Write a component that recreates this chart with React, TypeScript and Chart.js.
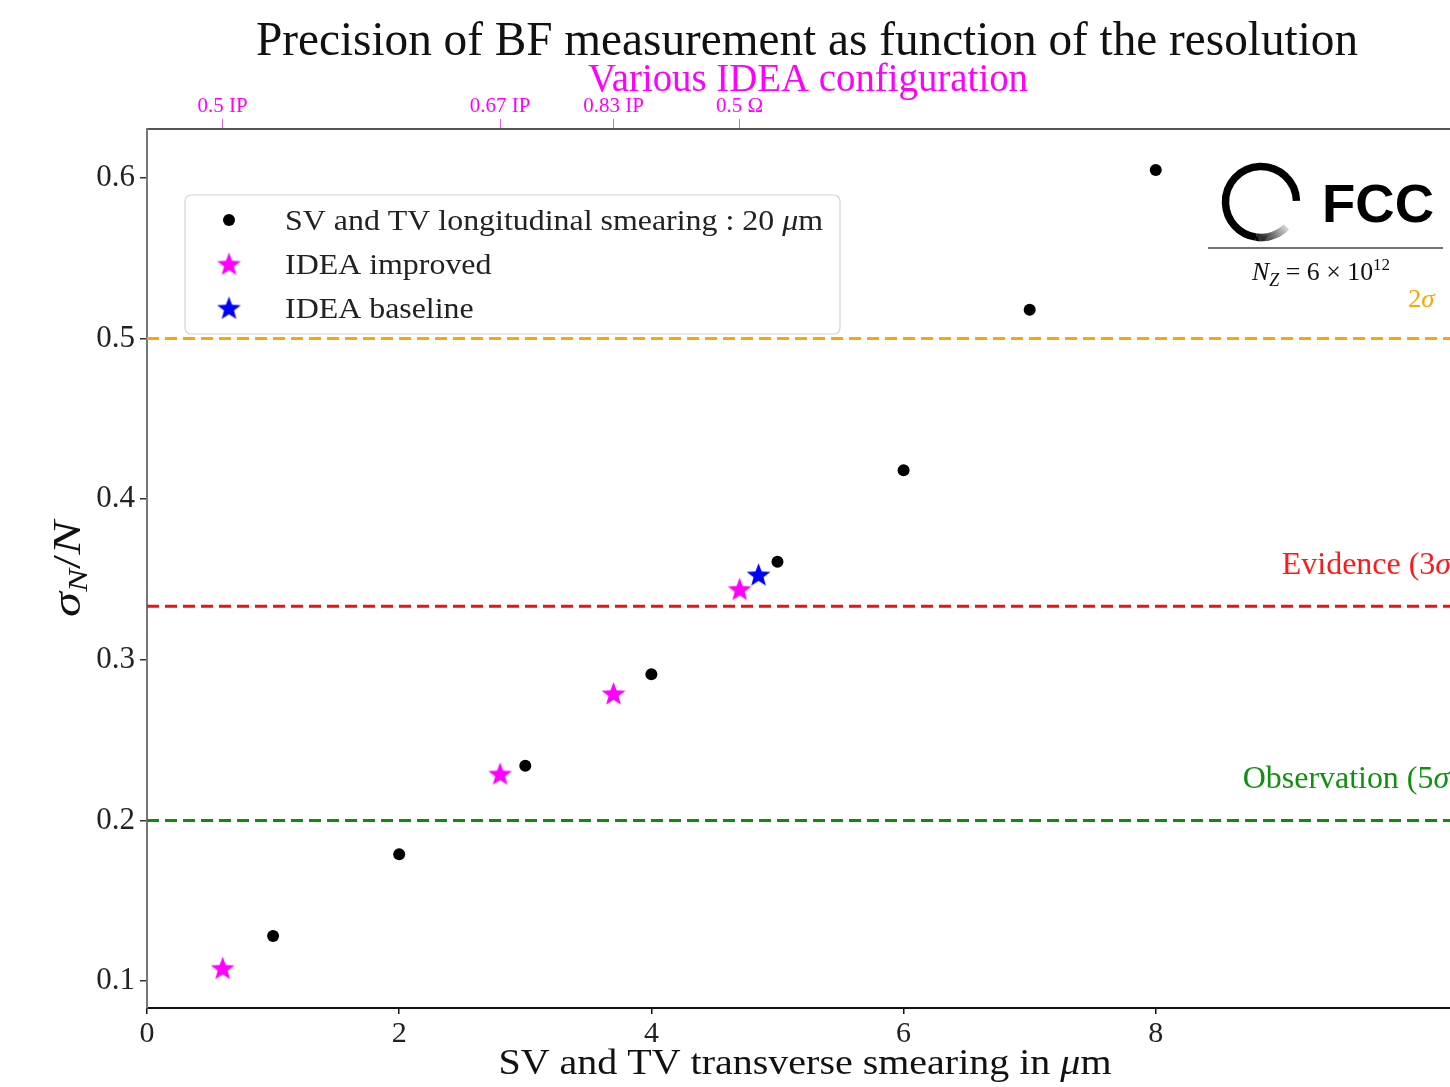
import React, { useEffect, useRef } from "react";
import { Chart, registerables } from "chart.js";

Chart.register(...registerables);

// ---------------- data ----------------
const xTickValues = [0, 2, 4, 6, 8];
const yTickValues = [0.1, 0.2, 0.3, 0.4, 0.5, 0.6];
const topTickValues = [0.6, 2.8, 3.7, 4.7];
const topTickLabels = ["0.5 IP", "0.67 IP", "0.83 IP", "0.5 Ω"];

const longSmearX = [1, 2, 3, 4, 5, 6, 7, 8];
const longSmearY = [0.128, 0.179, 0.234, 0.291, 0.361, 0.418, 0.518, 0.605];

const improvedX = [0.6, 2.8, 3.7, 4.7];
const improvedY = [0.108, 0.229, 0.279, 0.344];

const baselineX = [4.85];
const baselineY = [0.353];

const thresholdY = [0.5, 1 / 3, 0.2];
const thresholdLabels = ["2σ", "Evidence (3σ)", "Observation (5σ)"];
const thresholdLabelX = [10.0, 9.0, 8.69];

const seriesLabels = [
  "SV and TV longitudinal smearing : 20 μm",
  "IDEA improved",
  "IDEA baseline",
];

const titleText = "Precision of BF measurement as function of the resolution";
const subtitleText = "Various IDEA configuration";
const xAxisText = "SV and TV transverse smearing in μm";

const X_MIN = 0;
const X_MAX = 10.5;
const Y_MIN = 0.0832;
const Y_MAX = 0.6305;

// ---------------- styles ----------------
const SERIF = "'Liberation Serif', 'DejaVu Serif', serif";
const SANS = "'Liberation Sans', Arial, sans-serif";
const MAGENTA = "#ff00ff";
const BLUE = "#0000ff";
const thresholdColors = ["#ffa500", "#ff1a1a", "#109010"];
const thresholdLineColors = ["#ffa500", "#ee1111", "#089008"];

function makeStar(color: string, R: number): HTMLCanvasElement {
  const c = document.createElement("canvas");
  const s = Math.ceil(R * 2 + 2);
  c.width = s;
  c.height = s;
  const g = c.getContext("2d")!;
  const cx = s / 2;
  const cy = s / 2 + R * 0.08;
  const r = R * 0.42;
  g.beginPath();
  for (let i = 0; i < 10; i++) {
    const ang = -Math.PI / 2 + (i * Math.PI) / 5;
    const rad = i % 2 === 0 ? R : r;
    const px = cx + rad * Math.cos(ang);
    const py = cy + rad * Math.sin(ang);
    if (i === 0) g.moveTo(px, py);
    else g.lineTo(px, py);
  }
  g.closePath();
  g.fillStyle = color;
  g.fill();
  return c;
}

type Seg = { t: string; it?: boolean; size?: number; dy?: number };

function mathSegs(text: string, size: number): Seg[] {
  const out: Seg[] = [];
  let buf = "";
  for (const ch of text) {
    if (ch === "σ" || ch === "μ") {
      if (buf) out.push({ t: buf, size });
      buf = "";
      out.push({ t: ch, it: true, size });
    } else buf += ch;
  }
  if (buf) out.push({ t: buf, size });
  return out;
}

function segFont(s: Seg, family: string) {
  return `${s.it ? "italic " : ""}${s.size}px ${family}`;
}

function segWidth(ctx: CanvasRenderingContext2D, segs: Seg[], family: string) {
  let w = 0;
  for (const s of segs) {
    ctx.font = segFont(s, family);
    w += ctx.measureText(s.t).width;
  }
  return w;
}

function drawSegs(
  ctx: CanvasRenderingContext2D,
  segs: Seg[],
  x: number,
  y: number,
  color: string,
  family: string,
  align: "left" | "center" = "left",
  stretch = 1
) {
  const w = segWidth(ctx, segs, family);
  ctx.save();
  ctx.translate(x, y);
  ctx.scale(stretch, 1);
  let cx = align === "center" ? -w / 2 : 0;
  ctx.fillStyle = color;
  ctx.textAlign = "left";
  ctx.textBaseline = "alphabetic";
  for (const s of segs) {
    ctx.font = segFont(s, family);
    ctx.fillText(s.t, cx, s.dy || 0);
    cx += ctx.measureText(s.t).width;
  }
  ctx.restore();
}

function stretchFor(ctx: CanvasRenderingContext2D, segs: Seg[], target: number, family: string) {
  return target / segWidth(ctx, segs, family);
}

function makeDecorPlugin(starMag: HTMLCanvasElement, starBlue: HTMLCanvasElement) {
  return {
    id: "decor",
    afterDraw(chart: any) {
      const ctx: CanvasRenderingContext2D = chart.ctx;
      const xs = chart.scales.x;
      const ys = chart.scales.y;
      ctx.save();

      // title & subtitle
      const tSegs = mathSegs(titleText, 48);
      drawSegs(ctx, tSegs, 807, 55, "#111", SERIF, "center", stretchFor(ctx, tSegs, 1102, SERIF));
      const sSegs = mathSegs(subtitleText, 39);
      drawSegs(ctx, sSegs, 808, 91, MAGENTA, SERIF, "center", stretchFor(ctx, sSegs, 440, SERIF));

      // x-axis label
      const xSegs = mathSegs(xAxisText, 36);
      drawSegs(ctx, xSegs, 805, 1074, "#111", SERIF, "center", stretchFor(ctx, xSegs, 613, SERIF));

      // y-axis label  sigma_N / N
      ctx.save();
      ctx.translate(80, 569);
      ctx.rotate(-Math.PI / 2);
      const ySegs: Seg[] = [
        { t: "σ", it: true, size: 41 },
        { t: "N", it: true, size: 28, dy: 7 },
        { t: "/", size: 41 },
        { t: "N", it: true, size: 41 },
      ];
      drawSegs(ctx, ySegs, 0, 0, "#111", SERIF, "center", stretchFor(ctx, ySegs, 96, SERIF));
      ctx.restore();

      // threshold labels
      const lblSizes = [26, 31, 31];
      thresholdY.forEach((v, i) => {
        const px = xs.getPixelForValue(thresholdLabelX[i]);
        const py = ys.getPixelForValue(v) - 32;
        drawSegs(ctx, mathSegs(thresholdLabels[i], lblSizes[i]), px, py, thresholdColors[i], SERIF, "left", 1.03);
      });

      // legend
      const lx = 185, ly = 195, lw = 655, lh = 139;
      ctx.beginPath();
      ctx.roundRect(lx, ly, lw, lh, 6);
      ctx.fillStyle = "rgba(255,255,255,0.85)";
      ctx.fill();
      ctx.strokeStyle = "#d4d4d4";
      ctx.lineWidth = 1.2;
      ctx.stroke();
      const rows = [220, 264, 308];
      ctx.beginPath();
      ctx.arc(229, rows[0], 6, 0, Math.PI * 2);
      ctx.fillStyle = "#000";
      ctx.fill();
      ctx.drawImage(starMag, 229 - starMag.width / 2, rows[1] - starMag.height / 2);
      ctx.drawImage(starBlue, 229 - starBlue.width / 2, rows[2] - starBlue.height / 2);
      const legStretch = stretchFor(ctx, mathSegs(seriesLabels[0], 30), 538, SERIF);
      seriesLabels.forEach((lab, i) => {
        drawSegs(ctx, mathSegs(lab, 30), 285, rows[i] + 10, "#222", SERIF, "left", legStretch);
      });

      // FCC logo
      const cx = 1261, cy = 202, R = 35.5;
      ctx.lineWidth = 7.5;
      ctx.lineCap = "butt";
      const deg = Math.PI / 180;
      ctx.beginPath();
      ctx.strokeStyle = "#000";
      ctx.arc(cx, cy, R, -2 * deg, -262 * deg, true);
      ctx.stroke();
      const n = 30;
      for (let k = 0; k < n; k++) {
        const a0 = 98 - (k * 53) / n;
        const a1 = 98 - ((k + 1) * 53) / n - 0.5;
        const g = Math.round((k / n) * 215);
        ctx.beginPath();
        ctx.strokeStyle = `rgb(${g},${g},${g})`;
        ctx.arc(cx, cy, R, a0 * deg, a1 * deg, true);
        ctx.stroke();
      }
      ctx.save();
      ctx.fillStyle = "#000";
      ctx.font = `bold 53px ${SANS}`;
      ctx.textAlign = "left";
      ctx.translate(1322, 222);
      ctx.scale(112 / ctx.measureText("FCC").width, 1);
      ctx.fillText("FCC", 0, 0);
      ctx.restore();
      ctx.beginPath();
      ctx.strokeStyle = "#444";
      ctx.lineWidth = 1.3;
      ctx.moveTo(1208, 248);
      ctx.lineTo(1443, 248);
      ctx.stroke();
      const nz: Seg[] = [
        { t: "N", it: true, size: 26 },
        { t: "Z", it: true, size: 18, dy: 6 },
        { t: " = 6 × 10", size: 26 },
        { t: "12", size: 17, dy: -10 },
      ];
      drawSegs(ctx, nz, 1252, 280, "#111", "'Liberation Serif', serif", "left", stretchFor(ctx, nz, 138, "'Liberation Serif', serif"));

      ctx.restore();
    },
  };
}

export default function App() {
  const ref = useRef<HTMLCanvasElement>(null);

  useEffect(() => {
    if (!ref.current) return;
    const starMag = makeStar(MAGENTA, 12.5);
    const starBlue = makeStar(BLUE, 12.5);

    const thresholdSets = thresholdY.map((v, i) => ({
      label: thresholdLabels[i],
      data: [
        { x: X_MIN, y: v },
        { x: X_MAX, y: v },
      ],
      showLine: true,
      borderColor: thresholdLineColors[i],
      borderWidth: 3,
      borderDash: [12, 6],
      pointRadius: 0,
      order: 10,
    }));

    const chart = new Chart(ref.current, {
      type: "scatter",
      data: {
        datasets: [
          ...thresholdSets,
          {
            label: seriesLabels[0],
            data: longSmearX.map((x, i) => ({ x, y: longSmearY[i] })),
            backgroundColor: "#000",
            borderWidth: 0,
            pointRadius: 6,
            order: 1,
          },
          {
            label: seriesLabels[1],
            data: improvedX.map((x, i) => ({ x, y: improvedY[i] })),
            pointStyle: starMag,
            order: 1,
          },
          {
            label: seriesLabels[2],
            data: baselineX.map((x, i) => ({ x, y: baselineY[i] })),
            pointStyle: starBlue,
            order: 0,
          },
        ] as any,
      },
      options: {
        animation: false,
        responsive: false,
        devicePixelRatio: 1,
        layout: { padding: { left: 0, right: 9, top: 0, bottom: 0 }, autoPadding: false },
        plugins: {
          legend: { display: false },
          tooltip: { enabled: false },
          title: { display: false },
        },
        scales: {
          x: {
            type: "linear",
            position: "bottom",
            min: X_MIN,
            max: X_MAX,
            afterBuildTicks: (s: any) => {
              s.ticks = xTickValues.map((v) => ({ value: v }));
            },
            afterFit: (s: any) => {
              s.height = 79;
            },
            ticks: {
              color: "#222",
              font: { family: SERIF, size: 30 },
              padding: 2,
              maxRotation: 0,
              callback: (v: any) => String(v),
            },
            grid: { drawOnChartArea: false, drawTicks: true, tickLength: 6, color: "#111", lineWidth: 1.5 },
            border: { display: true, color: "#111", width: 2 },
          },
          x2: {
            type: "linear",
            axis: "x",
            position: "top",
            min: X_MIN,
            max: X_MAX,
            afterBuildTicks: (s: any) => {
              s.ticks = topTickValues.map((v) => ({ value: v }));
            },
            afterFit: (s: any) => {
              s.height = 129;
            },
            ticks: {
              color: MAGENTA,
              font: { family: SERIF, size: 21 },
              padding: 0,
              maxRotation: 0,
              autoSkip: false,
              callback: (_v: any, i: number) => topTickLabels[i],
            },
            grid: { drawOnChartArea: false, drawTicks: true, tickLength: 10, color: "#e060e0", lineWidth: 1 },
            border: { display: true, color: "#555", width: 2 },
          },
          y: {
            type: "linear",
            min: Y_MIN,
            max: Y_MAX,
            afterBuildTicks: (s: any) => {
              s.ticks = yTickValues.map((v) => ({ value: v }));
            },
            afterFit: (s: any) => {
              s.width = 147;
            },
            ticks: {
              color: "#222",
              font: { family: SERIF, size: 31 },
              padding: 5,
              callback: (v: any) => Number(v).toFixed(1),
            },
            grid: { drawOnChartArea: false, drawTicks: true, tickLength: 7, color: "#333", lineWidth: 1.5 },
            border: { display: true, color: "#777", width: 2 },
          },
        },
      } as any,
      plugins: [makeDecorPlugin(starMag, starBlue)],
    });

    return () => chart.destroy();
  }, []);

  return (
    <div
      style={{
        position: "absolute",
        left: 0,
        top: 0,
        width: 1450,
        height: 1087,
        overflow: "hidden",
        background: "#fff",
      }}
    >
      <canvas ref={ref} width={1480} height={1087} style={{ width: 1480, height: 1087, display: "block" }} />
    </div>
  );
}
